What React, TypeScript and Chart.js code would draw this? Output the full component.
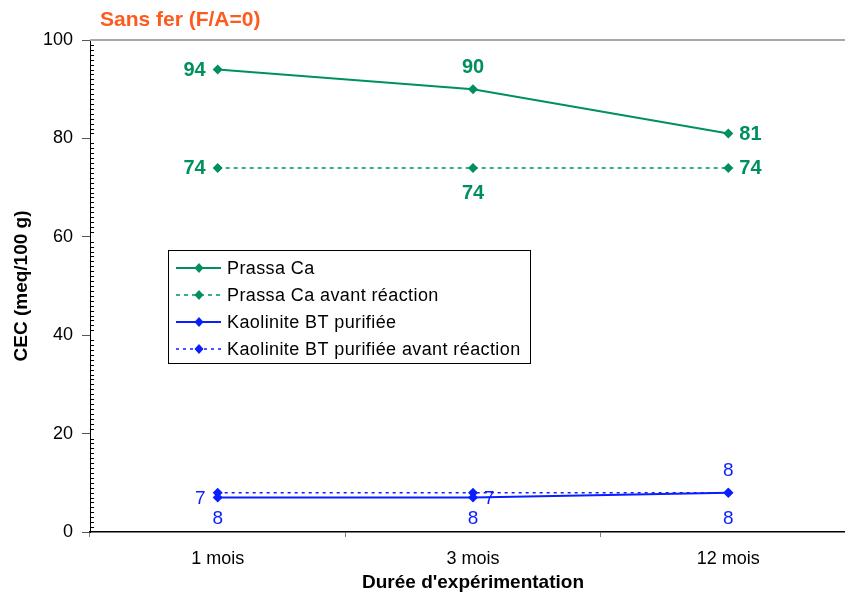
import React, { useEffect, useRef } from "react";
import { Chart, registerables } from "chart.js";

Chart.register(...registerables);

const categories = ["1 mois", "3 mois", "12 mois"];
const prassaCa = [94, 90, 81];
const prassaCaAvant = [74, 74, 74];
const kaolinite = [7, 7, 8];
const kaoliniteAvant = [8, 8, 8];
const seriesNames = [
  "Prassa Ca",
  "Prassa Ca avant réaction",
  "Kaolinite BT purifiée",
  "Kaolinite BT purifiée avant réaction",
];
const yMin = 0;
const yMax = 100;
const yStep = 20;

const chartTitle = "Sans fer (F/A=0)";
const yTitle = "CEC (meq/100 g)";
const xTitle = "Durée d'expérimentation";

const GREEN = "#00905C";
const BLUE = "#0A1EFF";
const FONT = "'Liberation Sans', Arial, sans-serif";

// label placement per series / point
const labelPlacement = [
  ["left", "above", "right"],
  ["left", "below", "right"],
  ["left", "right", "above"],
  ["below", "below", "below"],
];

const decor = {
  id: "decor",
  beforeDatasetsDraw(chart: any) {
    const { ctx, chartArea } = chart;
    const y = chart.scales.y;
    ctx.save();
    ctx.strokeStyle = "#a8a8a8";
    ctx.lineWidth = 2;
    ctx.beginPath();
    ctx.moveTo(chartArea.left, chartArea.top);
    ctx.lineTo(chartArea.right, chartArea.top);
    ctx.stroke();
    ctx.strokeStyle = "#000";
    ctx.lineWidth = 1;
    for (let v = yMin + 1; v < yMax; v++) {
      if (v % yStep === 0) continue;
      const py = Math.round(y.getPixelForValue(v)) + 0.5;
      ctx.beginPath();
      ctx.moveTo(chartArea.left, py);
      ctx.lineTo(chartArea.left + 4, py);
      ctx.stroke();
    }
    ctx.restore();
  },
  afterDatasetsDraw(chart: any) {
    const { ctx, chartArea } = chart;
    ctx.save();
    ctx.fillStyle = "#FF5A1E";
    ctx.font = `bold 21px ${FONT}`;
    ctx.textAlign = "left";
    ctx.textBaseline = "middle";
    ctx.fillText(chartTitle, 100, 20);

    ctx.fillStyle = "#000";
    ctx.font = `bold 19px ${FONT}`;
    ctx.textAlign = "center";
    ctx.fillText(xTitle, (chartArea.left + chartArea.right) / 2, 583);
    ctx.save();
    ctx.translate(22, (chartArea.top + chartArea.bottom) / 2);
    ctx.rotate(-Math.PI / 2);
    ctx.fillText(yTitle, 0, 0);
    ctx.restore();

    chart.data.datasets.forEach((ds: any, i: number) => {
      const meta = chart.getDatasetMeta(i);
      ctx.fillStyle = ds.borderColor;
      ctx.font = i < 2 ? `bold 20px ${FONT}` : `19px ${FONT}`;
      ctx.textBaseline = "middle";
      meta.data.forEach((pt: any, j: number) => {
        const pos = labelPlacement[i][j];
        let lx = pt.x;
        let ly = pt.y;
        ctx.textAlign = "center";
        if (pos === "left") {
          lx -= 12;
          ctx.textAlign = "right";
        }
        if (pos === "right") {
          lx += 11;
          ctx.textAlign = "left";
        }
        if (pos === "above") ly -= 23;
        if (pos === "below") ly += 25;
        ctx.fillText(String(ds.data[j]), lx, ly + 1);
      });
    });

    const bx = 168.5, by = 250.5, bw = 362, bh = 113;
    ctx.fillStyle = "#fff";
    ctx.fillRect(bx, by, bw, bh);
    ctx.strokeStyle = "#000";
    ctx.lineWidth = 1;
    ctx.strokeRect(bx, by, bw, bh);
    chart.data.datasets.forEach((ds: any, i: number) => {
      const ry = 268 + i * 27;
      ctx.strokeStyle = ds.borderColor;
      ctx.lineWidth = ds.borderWidth;
      ctx.setLineDash(ds.borderDash || []);
      ctx.beginPath();
      ctx.moveTo(176, ry);
      ctx.lineTo(221, ry);
      ctx.stroke();
      ctx.setLineDash([]);
      ctx.fillStyle = ds.borderColor;
      ctx.beginPath();
      ctx.moveTo(199, ry - 5);
      ctx.lineTo(203.5, ry);
      ctx.lineTo(199, ry + 5);
      ctx.lineTo(194.5, ry);
      ctx.closePath();
      ctx.fill();
      ctx.fillStyle = "#000";
      ctx.font = `18px ${FONT}`;
      (ctx as any).letterSpacing = "0.4px";
      ctx.textAlign = "left";
      ctx.textBaseline = "middle";
      ctx.fillText(ds.label, 227, ry + 1);
      (ctx as any).letterSpacing = "0px";
    });
    ctx.restore();
  },
};

export default function App() {
  const ref = useRef<HTMLCanvasElement>(null);
  useEffect(() => {
    if (!ref.current) return;
    const mk = (label: string, data: number[], color: string, dash: number[] | undefined, width: number) => ({
      label,
      data,
      borderColor: color,
      backgroundColor: color,
      borderWidth: width,
      borderDash: dash,
      pointStyle: "rectRot",
      pointRadius: 5,
      pointBorderWidth: 0,
      pointBackgroundColor: color,
      tension: 0,
      fill: false,
    });
    const chart = new Chart(ref.current, {
      type: "line",
      data: {
        labels: categories,
        datasets: [
          mk(seriesNames[0], prassaCa, GREEN, undefined, 2),
          mk(seriesNames[1], prassaCaAvant, GREEN, [4, 4], 1.5),
          mk(seriesNames[2], kaolinite, BLUE, undefined, 2),
          mk(seriesNames[3], kaoliniteAvant, BLUE, [3, 4], 1.5),
        ] as any,
      },
      options: {
        animation: false,
        responsive: false,
        maintainAspectRatio: false,
        layout: { padding: { top: 40, left: 0, right: 0, bottom: 0 } },
        plugins: {
          legend: { display: false },
          title: { display: false },
          tooltip: { enabled: false },
        },
        scales: {
          x: {
            type: "category",
            offset: true,
            grid: {
              offset: true,
              drawOnChartArea: false,
              tickLength: 5,
              color: "#808080",
            },
            border: { color: "#000", width: 1.5 },
            ticks: {
              color: "#000",
              padding: 11,
              font: { family: FONT, size: 18 },
              maxRotation: 0,
            },
            afterFit: (s: any) => {
              s.height = 65;
            },
          },
          y: {
            min: yMin,
            max: yMax,
            ticks: {
              stepSize: yStep,
              color: "#000",
              padding: 9,
              font: { family: FONT, size: 18 },
            },
            grid: {
              drawOnChartArea: false,
              tickLength: 8,
              color: "#555",
            },
            border: { color: "#000", width: 1 },
            afterFit: (s: any) => {
              s.width = 90;
            },
          },
        },
      } as any,
      plugins: [decor],
    });
    return () => chart.destroy();
  }, []);
  return (
    <div
      style={{
        position: "fixed",
        left: 0,
        top: 0,
        width: 845,
        height: 597,
        overflow: "hidden",
        background: "#fff",
      }}
    >
      <canvas ref={ref} width={861} height={597} style={{ display: "block" }} />
    </div>
  );
}
